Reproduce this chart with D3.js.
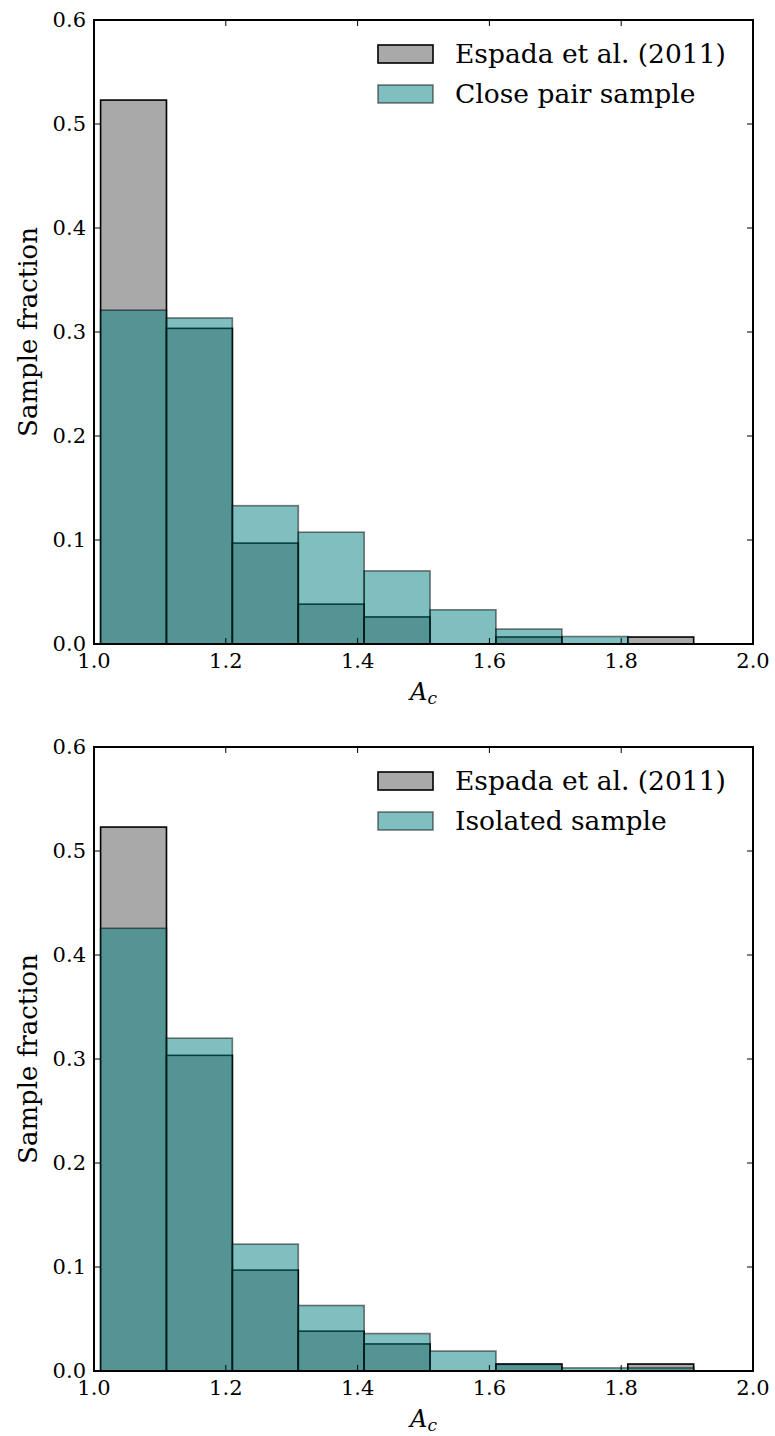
<!DOCTYPE html>
<html>
<head>
<meta charset="utf-8">
<script src="https://cdn.jsdelivr.net/npm/d3@7"></script>
<style>
  body { margin: 0; background: #fff; }
  svg { display: block; }
  text { font-family: "DejaVu Serif", serif; fill: #000; }
</style>
</head>
<body>
<svg id="chart" width="775" height="1436"></svg>
<script>
// Histogram bin edges (A_c)
const binEdges = [1.01, 1.11, 1.21, 1.31, 1.41, 1.51, 1.61, 1.71, 1.81, 1.91];

// Sample fraction per bin
const espada    = [0.523, 0.3035, 0.097, 0.0383, 0.026, 0.0, 0.0067, 0.0, 0.0067];
const closePair = [0.321, 0.3135, 0.133, 0.1075, 0.0703, 0.0329, 0.0144, 0.0072, 0.0];
const isolated  = [0.4257, 0.320, 0.122, 0.063, 0.036, 0.0192, 0.0064, 0.003, 0.003];

// Axis ticks
const xTicks = [1.0, 1.2, 1.4, 1.6, 1.8, 2.0];
const yTicks = [0.0, 0.1, 0.2, 0.3, 0.4, 0.5, 0.6];

const refLabel = "Espada et al. (2011)";
const panels = [
  { top: 20,  bottom: 644,  values: closePair, label: "Close pair sample" },
  { top: 747, bottom: 1371, values: isolated,  label: "Isolated sample" }
];

const left = 94, right = 753;
const svg = d3.select("#chart");

const bins = vals => vals.map((v, i) => ({ x0: binEdges[i], x1: binEdges[i + 1], v }));

panels.forEach(p => {
  const x = d3.scaleLinear().domain([1.0, 2.0]).range([left, right]);
  const y = d3.scaleLinear().domain([0, 0.6]).range([p.bottom, p.top]);
  const g = svg.append("g");

  // reference distribution (opaque grey, black edges)
  g.append("g").selectAll("rect").data(bins(espada).filter(d => d.v > 0)).join("rect")
    .attr("x", d => x(d.x0)).attr("width", d => x(d.x1) - x(d.x0))
    .attr("y", d => y(d.v)).attr("height", d => y(0) - y(d.v))
    .attr("fill", "#a9a9a9").attr("stroke", "#000").attr("stroke-width", 1.6);

  // sample distribution (translucent teal)
  g.append("g").selectAll("rect").data(bins(p.values).filter(d => d.v > 0)).join("rect")
    .attr("x", d => x(d.x0)).attr("width", d => x(d.x1) - x(d.x0))
    .attr("y", d => y(d.v)).attr("height", d => y(0) - y(d.v))
    .attr("fill", "#008080").attr("fill-opacity", 0.5)
    .attr("stroke", "#000").attr("stroke-opacity", 0.5).attr("stroke-width", 1.6);

  // inward ticks on all four sides
  const tl = 6;
  const ax = g.append("g").attr("stroke", "#000").attr("stroke-width", 1);
  xTicks.forEach(t => {
    ax.append("line").attr("x1", x(t)).attr("x2", x(t)).attr("y1", p.bottom).attr("y2", p.bottom - tl);
    ax.append("line").attr("x1", x(t)).attr("x2", x(t)).attr("y1", p.top).attr("y2", p.top + tl);
  });
  yTicks.forEach(t => {
    ax.append("line").attr("y1", y(t)).attr("y2", y(t)).attr("x1", left).attr("x2", left + tl);
    ax.append("line").attr("y1", y(t)).attr("y2", y(t)).attr("x1", right).attr("x2", right - tl);
  });

  // frame
  g.append("rect").attr("x", left).attr("y", p.top)
    .attr("width", right - left).attr("height", p.bottom - p.top)
    .attr("fill", "none").attr("stroke", "#000").attr("stroke-width", 2);

  // tick labels
  g.append("g").selectAll("text").data(xTicks).join("text")
    .attr("x", d => x(d)).attr("y", p.bottom + 24)
    .attr("text-anchor", "middle").attr("font-size", 21)
    .text(d => d3.format(".1f")(d));
  g.append("g").selectAll("text").data(yTicks).join("text")
    .attr("x", left - 8).attr("y", d => y(d) + 7)
    .attr("text-anchor", "end").attr("font-size", 21)
    .text(d => d3.format(".1f")(d));

  // axis titles
  g.append("text")
    .attr("transform", `translate(37,${(p.top + p.bottom) / 2}) rotate(-90)`)
    .attr("text-anchor", "middle").attr("font-size", 26)
    .text("Sample fraction");
  const xl = g.append("text")
    .attr("x", (left + right) / 2).attr("y", p.bottom + 56)
    .attr("text-anchor", "middle").attr("font-size", 24).attr("font-style", "italic");
  xl.append("tspan").text("A");
  xl.append("tspan").attr("font-size", 17).attr("dy", 4).text("c");

  // legend
  const lg = g.append("g");
  const rows = [
    { label: refLabel, fill: "#a9a9a9", op: 1, sop: 1 },
    { label: p.label, fill: "#008080", op: 0.5, sop: 0.5 }
  ];
  rows.forEach((r, i) => {
    const cy = p.top + 34 + i * 40;
    lg.append("rect").attr("x", 378).attr("y", cy - 9).attr("width", 55).attr("height", 18)
      .attr("fill", r.fill).attr("fill-opacity", r.op)
      .attr("stroke", "#000").attr("stroke-opacity", r.sop).attr("stroke-width", 1.6);
    lg.append("text").attr("x", 455).attr("y", cy + 9).attr("font-size", 26.5).text(r.label);
  });
});
</script>
</body>
</html>
